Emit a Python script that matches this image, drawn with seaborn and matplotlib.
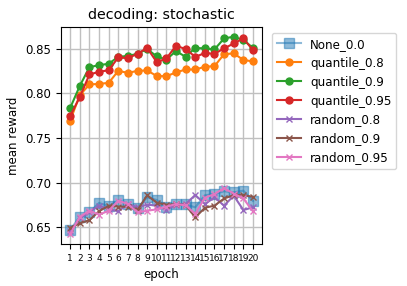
import numpy as np
import pandas as pd
import matplotlib
matplotlib.use('Agg')
import matplotlib.pyplot as plt
import seaborn as sns

# data
epochs = list(range(1, 21))
none_00 = [0.6470, 0.6618, 0.6667, 0.6772, 0.6736, 0.6802, 0.6760, 0.6714, 0.6835, 0.6805,
           0.6730, 0.6762, 0.6755, 0.6723, 0.6858, 0.6873, 0.6903, 0.6891, 0.6910, 0.6795]
quantile_08 = [0.7695, 0.7980, 0.8100, 0.8107, 0.8118, 0.8253, 0.8230, 0.8253, 0.8257, 0.8195,
               0.8193, 0.8235, 0.8268, 0.8268, 0.8298, 0.8306, 0.8440, 0.8448, 0.8375, 0.8358]
quantile_09 = [0.7837, 0.8084, 0.8294, 0.8317, 0.8332, 0.8410, 0.8420, 0.8444, 0.8497, 0.8415,
               0.8380, 0.8474, 0.8410, 0.8510, 0.8504, 0.8493, 0.8617, 0.8635, 0.8598, 0.8510]
quantile_095 = [0.7747, 0.7960, 0.8212, 0.8242, 0.8260, 0.8403, 0.8395, 0.8444, 0.8510, 0.8350,
                0.8392, 0.8534, 0.8497, 0.8410, 0.8452, 0.8444, 0.8504, 0.8560, 0.8617, 0.8485]
random_08 = [0.6453, 0.6600, 0.6670, 0.6742, 0.6704, 0.6678, 0.6760, 0.6723, 0.6753, 0.6742,
             0.6693, 0.6753, 0.6760, 0.6861, 0.6760, 0.6835, 0.6742, 0.6854, 0.6693, 0.6723]
random_09 = [0.6495, 0.6543, 0.6580, 0.6680, 0.6740, 0.6730, 0.6730, 0.6693, 0.6858, 0.6775,
             0.6753, 0.6758, 0.6748, 0.6610, 0.6718, 0.6742, 0.6822, 0.6860, 0.6860, 0.6840]
random_095 = [0.6423, 0.6618, 0.6685, 0.6640, 0.6685, 0.6798, 0.6760, 0.6667, 0.6685, 0.6700,
              0.6730, 0.6760, 0.6745, 0.6650, 0.6830, 0.6872, 0.6938, 0.6876, 0.6822, 0.6678]

series = {
    'None_0.0': none_00,
    'quantile_0.8': quantile_08,
    'quantile_0.9': quantile_09,
    'quantile_0.95': quantile_095,
    'random_0.8': random_08,
    'random_0.9': random_09,
    'random_0.95': random_095,
}
markers = {'None_0.0': 's', 'quantile_0.8': 'o', 'quantile_0.9': 'o', 'quantile_0.95': 'o',
           'random_0.8': 'x', 'random_0.9': 'x', 'random_0.95': 'x'}

df = pd.DataFrame([(e, name, v) for name, vals in series.items() for e, v in zip(epochs, vals)],
                  columns=['epoch', 'method', 'reward'])

plt.rcParams['font.family'] = ['DejaVu Sans']
colors = sns.color_palette('tab10', 7)

fig, ax = plt.subplots(figsize=(4.07, 2.86), dpi=100)
for i, name in enumerate(series):
    sub = df[df['method'] == name]
    big = name == 'None_0.0'
    sns.lineplot(data=sub, x='epoch', y='reward', ax=ax, color=colors[i], label=name,
                 marker=markers[name], markersize=7 if big else 5,
                 alpha=0.5 if big else 1.0, linewidth=1.5,
                 markeredgecolor=colors[i], markeredgewidth=1.0)

ax.set_xticks(epochs)
ax.set_xticklabels([str(e) for e in epochs], fontsize=6.5)
ax.tick_params(axis='y', labelsize=8.5)
ax.set_yticks([0.65, 0.70, 0.75, 0.80, 0.85])
ax.grid(True, color='#c0c0c0', linewidth=1.0)
ax.set_xlabel('epoch', fontsize=8.5)
ax.set_ylabel('mean reward', fontsize=8.5)
ax.set_title('decoding: stochastic', fontsize=10.3)
ax.legend(loc='upper left', bbox_to_anchor=(1.02, 1.0), fontsize=8.6, borderaxespad=0.5)

fig.subplots_adjust(left=0.15, right=0.644, top=0.906, bottom=0.147)
fig.savefig('out.png', dpi=100)
